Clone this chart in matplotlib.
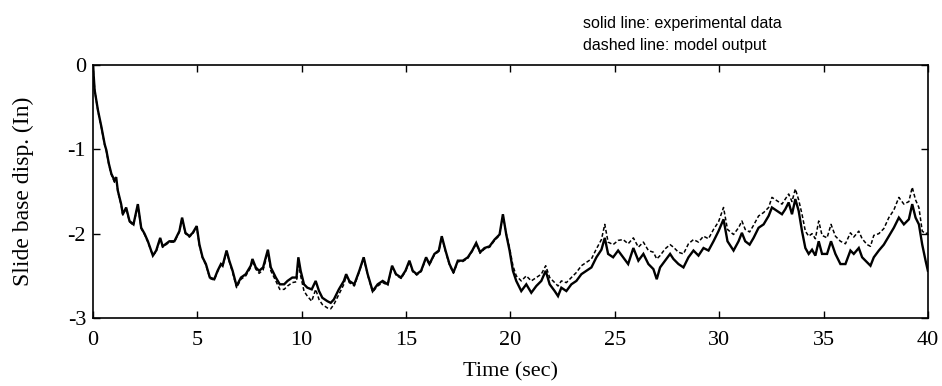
import matplotlib
matplotlib.use("Agg")
import matplotlib.pyplot as plt

# Slide base displacement (in) versus time (s)
t_exp = [0.0, 0.08, 0.24, 0.40, 0.56, 0.64, 0.76, 0.88, 1.03, 1.11, 1.19, 1.35, 1.43, 1.59,
         1.75, 1.94, 2.15, 2.31, 2.47, 2.63, 2.87, 3.03, 3.22, 3.34, 3.50, 3.66, 3.90, 4.14,
         4.27, 4.43, 4.62, 4.78, 4.97, 5.10, 5.25, 5.41, 5.60, 5.81, 5.97, 6.13, 6.21, 6.40,
         6.53, 6.69, 6.88, 7.09, 7.32, 7.56, 7.64, 7.80, 7.96, 8.15, 8.38, 8.52, 8.76, 8.95,
         9.16, 9.32, 9.55, 9.75, 9.84, 9.95, 10.11, 10.27, 10.48, 10.67, 10.83, 10.99, 11.23,
         11.39, 11.54, 11.78, 12.02, 12.13, 12.28, 12.52, 12.76, 12.97, 13.16, 13.40, 13.64,
         13.88, 14.12, 14.33, 14.52, 14.76, 14.97, 15.16, 15.32, 15.51, 15.72, 15.96, 16.12,
         16.36, 16.57, 16.71, 16.89, 17.08, 17.27, 17.48, 17.72, 17.96, 18.17, 18.36, 18.55,
         18.76, 19.00, 19.24, 19.48, 19.64, 19.80, 19.96, 20.12, 20.28, 20.52, 20.76, 21.00,
         21.24, 21.48, 21.69, 21.88, 22.12, 22.28, 22.44, 22.68, 22.92, 23.16, 23.40, 23.64,
         23.88, 24.12, 24.36, 24.52, 24.68, 24.92, 25.16, 25.40, 25.64, 25.89, 26.13, 26.37,
         26.61, 26.85, 27.01, 27.17, 27.41, 27.65, 27.81, 28.05, 28.29, 28.53, 28.77, 29.01,
         29.25, 29.49, 29.73, 29.97, 30.21, 30.40, 30.69, 30.93, 31.09, 31.25, 31.46, 31.65,
         31.89, 32.13, 32.37, 32.53, 32.77, 33.01, 33.17, 33.33, 33.49, 33.65, 33.81, 33.97,
         34.13, 34.29, 34.45, 34.61, 34.77, 34.93, 35.17, 35.36, 35.57, 35.81, 36.05, 36.29,
         36.45, 36.69, 36.85, 37.09, 37.25, 37.41, 37.65, 37.89, 38.13, 38.37, 38.61, 38.85,
         39.09, 39.25, 39.41, 39.57, 39.73, 39.89, 40.0]
d_exp = [0.0, -0.30, -0.54, -0.73, -0.94, -1.01, -1.17, -1.29, -1.37, -1.33, -1.49, -1.65,
         -1.77, -1.69, -1.85, -1.89, -1.65, -1.93, -2.00, -2.09, -2.26, -2.20, -2.05, -2.15,
         -2.12, -2.09, -2.09, -1.97, -1.81, -1.99, -2.03, -1.99, -1.91, -2.13, -2.28, -2.36,
         -2.52, -2.54, -2.44, -2.36, -2.38, -2.20, -2.32, -2.44, -2.62, -2.52, -2.48, -2.38,
         -2.30, -2.40, -2.44, -2.40, -2.19, -2.40, -2.52, -2.60, -2.60, -2.56, -2.52, -2.52,
         -2.28, -2.44, -2.60, -2.64, -2.66, -2.56, -2.68, -2.76, -2.80, -2.82, -2.78, -2.66,
         -2.56, -2.48, -2.56, -2.60, -2.44, -2.28, -2.48, -2.68, -2.60, -2.56, -2.60, -2.38,
         -2.48, -2.52, -2.44, -2.32, -2.44, -2.48, -2.44, -2.28, -2.36, -2.24, -2.20, -2.03,
         -2.20, -2.36, -2.46, -2.32, -2.32, -2.28, -2.20, -2.11, -2.22, -2.17, -2.15, -2.07,
         -2.01, -1.77, -2.01, -2.20, -2.44, -2.56, -2.68, -2.60, -2.70, -2.62, -2.56, -2.44,
         -2.60, -2.68, -2.74, -2.64, -2.68, -2.60, -2.56, -2.48, -2.44, -2.40, -2.28, -2.19,
         -2.05, -2.24, -2.28, -2.20, -2.28, -2.36, -2.17, -2.32, -2.24, -2.36, -2.42, -2.54,
         -2.40, -2.32, -2.24, -2.30, -2.36, -2.40, -2.28, -2.20, -2.26, -2.17, -2.20, -2.09,
         -1.97, -1.83, -2.09, -2.20, -2.09, -1.99, -2.09, -2.13, -2.05, -1.93, -1.89, -1.79,
         -1.69, -1.73, -1.77, -1.71, -1.63, -1.77, -1.59, -1.73, -1.97, -2.17, -2.24, -2.19,
         -2.26, -2.09, -2.24, -2.24, -2.09, -2.24, -2.36, -2.36, -2.20, -2.24, -2.17, -2.28,
         -2.34, -2.38, -2.28, -2.20, -2.13, -2.03, -1.93, -1.81, -1.89, -1.83, -1.65, -1.81,
         -1.89, -2.13, -2.32, -2.44]

t_mod = [0.0, 0.08, 0.24, 0.40, 0.56, 0.64, 0.76, 0.88, 1.03, 1.11, 1.19, 1.35, 1.43, 1.59,
         1.75, 1.94, 2.15, 2.31, 2.47, 2.63, 2.87, 3.03, 3.22, 3.34, 3.50, 3.66, 3.90, 4.14,
         4.27, 4.43, 4.62, 4.78, 4.97, 5.10, 5.25, 5.41, 5.60, 5.81, 5.97, 6.13, 6.21, 6.40,
         6.53, 6.69, 6.88, 7.09, 7.32, 7.56, 7.64, 7.80, 7.96, 8.15, 8.38, 8.52, 8.76, 8.95,
         9.16, 9.32, 9.55, 9.75, 9.84, 9.95, 10.11, 10.27, 10.48, 10.67, 10.83, 10.99, 11.23,
         11.39, 11.54, 11.78, 12.02, 12.13, 12.28, 12.52, 12.76, 12.97, 13.16, 13.40, 13.64,
         13.88, 14.12, 14.33, 14.52, 14.76, 14.97, 15.16, 15.32, 15.51, 15.72, 15.96, 16.12,
         16.36, 16.57, 16.71, 16.89, 17.08, 17.27, 17.48, 17.72, 17.96, 18.17, 18.36, 18.55,
         18.76, 19.00, 19.24, 19.48, 19.64, 19.80, 19.96, 20.12, 20.28, 20.52, 20.76, 21.00,
         21.24, 21.48, 21.69, 21.88, 22.12, 22.28, 22.44, 22.68, 22.92, 23.16, 23.40, 23.64,
         23.88, 24.12, 24.36, 24.52, 24.68, 24.92, 25.16, 25.40, 25.64, 25.89, 26.13, 26.37,
         26.61, 26.85, 27.01, 27.17, 27.41, 27.65, 27.81, 28.05, 28.29, 28.53, 28.77, 29.01,
         29.25, 29.49, 29.73, 29.97, 30.21, 30.40, 30.69, 30.93, 31.09, 31.25, 31.46, 31.65,
         31.89, 32.13, 32.37, 32.53, 32.77, 33.01, 33.17, 33.33, 33.49, 33.65, 33.81, 33.97,
         34.13, 34.29, 34.45, 34.61, 34.77, 34.93, 35.17, 35.36, 35.57, 35.81, 36.05, 36.29,
         36.45, 36.69, 36.85, 37.09, 37.25, 37.41, 37.65, 37.89, 38.13, 38.37, 38.61, 38.85,
         39.09, 39.25, 39.41, 39.57, 39.73, 39.89, 40.0]
d_mod = [0.0, -0.30, -0.55, -0.74, -0.95, -1.02, -1.18, -1.30, -1.39, -1.34, -1.50, -1.66,
         -1.78, -1.70, -1.86, -1.90, -1.66, -1.94, -2.01, -2.10, -2.26, -2.21, -2.06, -2.16,
         -2.13, -2.10, -2.10, -1.98, -1.82, -2.00, -2.04, -2.00, -1.92, -2.14, -2.29, -2.37,
         -2.53, -2.55, -2.45, -2.37, -2.39, -2.21, -2.33, -2.46, -2.64, -2.54, -2.50, -2.40,
         -2.32, -2.42, -2.47, -2.43, -2.22, -2.44, -2.56, -2.66, -2.66, -2.62, -2.58, -2.57,
         -2.34, -2.50, -2.68, -2.74, -2.80, -2.66, -2.78, -2.84, -2.88, -2.89, -2.84, -2.72,
         -2.60, -2.50, -2.58, -2.62, -2.45, -2.29, -2.49, -2.69, -2.62, -2.58, -2.61, -2.39,
         -2.49, -2.53, -2.45, -2.33, -2.45, -2.49, -2.45, -2.29, -2.37, -2.25, -2.21, -2.04,
         -2.21, -2.37, -2.47, -2.33, -2.33, -2.29, -2.21, -2.12, -2.23, -2.18, -2.16, -2.08,
         -2.02, -1.78, -2.00, -2.17, -2.38, -2.50, -2.56, -2.50, -2.56, -2.52, -2.48, -2.38,
         -2.52, -2.58, -2.62, -2.56, -2.58, -2.52, -2.46, -2.38, -2.34, -2.30, -2.18, -2.07,
         -1.89, -2.10, -2.13, -2.08, -2.07, -2.12, -2.05, -2.16, -2.10, -2.20, -2.22, -2.30,
         -2.26, -2.18, -2.13, -2.16, -2.22, -2.24, -2.12, -2.07, -2.10, -2.03, -2.06, -1.95,
         -1.86, -1.69, -1.95, -2.01, -1.93, -1.85, -1.95, -1.98, -1.90, -1.79, -1.75, -1.69,
         -1.57, -1.61, -1.65, -1.59, -1.53, -1.62, -1.47, -1.60, -1.77, -1.97, -2.03, -2.00,
         -2.06, -1.85, -2.02, -2.05, -1.89, -2.03, -2.09, -2.12, -1.99, -2.04, -1.97, -2.06,
         -2.13, -2.15, -2.02, -2.00, -1.94, -1.81, -1.72, -1.57, -1.65, -1.62, -1.45, -1.60,
         -1.69, -1.97, -2.00, -1.99]

x_ticks = [0, 5, 10, 15, 20, 25, 30, 35, 40]
y_ticks = [0, -1, -2, -3]

fig = plt.figure(figsize=(9.42, 3.86), dpi=100)
ax = fig.add_axes([0.0987, 0.176, 0.8863, 0.656])

ax.plot(t_exp, d_exp, color="black", linewidth=1.7, solid_joinstyle="miter")
ax.plot(t_mod, d_mod, color="black", linewidth=1.1, linestyle=(0, (2.5, 1.5)))

ax.set_xlim(0, 40)
ax.set_ylim(-3, 0)
ax.set_xticks(x_ticks)
ax.set_yticks(y_ticks)
ax.set_xticklabels([str(v) for v in x_ticks])
ax.set_yticklabels([str(v) for v in y_ticks])

serif = "Liberation Serif"
for lab in ax.get_xticklabels() + ax.get_yticklabels():
    lab.set_fontfamily(serif)
    lab.set_fontsize(16)

ax.tick_params(direction="in", length=5, width=1, top=True, right=True)
ax.tick_params(axis="x", pad=9)
ax.tick_params(axis="y", pad=5)
for sp in ax.spines.values():
    sp.set_linewidth(1.2)

ax.set_xlabel("Time (sec)", fontfamily=serif, fontsize=16, labelpad=9)
ax.set_ylabel("Slide base disp. (In)", fontfamily=serif, fontsize=17, labelpad=24)

fig.text(0.619, 0.938, "solid line: experimental data", fontfamily="Liberation Sans",
         fontsize=11.5, va="center", ha="left")
fig.text(0.619, 0.881, "dashed line: model output", fontfamily="Liberation Sans",
         fontsize=11.5, va="center", ha="left")

fig.savefig("out.png", dpi=100)
